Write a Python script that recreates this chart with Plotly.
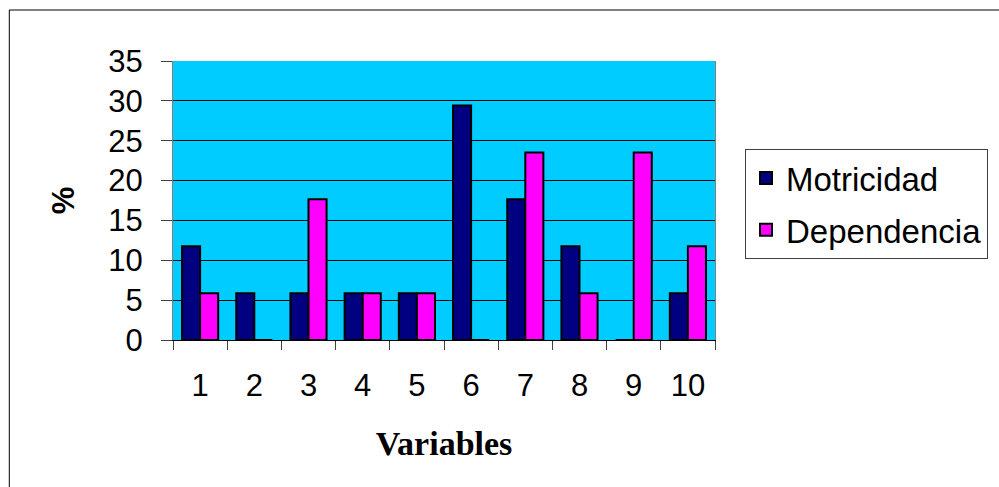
import plotly.graph_objects as go

categories = ["1", "2", "3", "4", "5", "6", "7", "8", "9", "10"]
motricidad = [11.76, 5.88, 5.88, 5.88, 5.88, 29.41, 17.65, 11.76, 0, 5.88]
dependencia = [5.88, 0, 17.65, 5.88, 5.88, 0, 23.53, 5.88, 23.53, 11.76]
y_ticks = [0, 5, 10, 15, 20, 25, 30, 35]

W, H = 999, 487
L, R, T, B = 173, 716, 61, 340

fig = go.Figure()
fig.add_trace(go.Bar(name="Motricidad", x=categories, y=motricidad, legendgroup="m",
                     marker=dict(color="#000080", line=dict(color="black", width=2))))
fig.add_trace(go.Bar(name="Dependencia", x=categories, y=dependencia, legendgroup="d",
                     marker=dict(color="#FF00FF", line=dict(color="black", width=2))))

pw, ph = R - L, B - T
def px(x):
    return (x - L) / pw
def py(y):
    return (B - y) / ph

fig.add_shape(type="rect", xref="paper", yref="paper",
              x0=px(9), x1=px(1010), y0=py(10), y1=py(500),
              line=dict(color="black", width=1), layer="below")

fig.update_layout(
    width=W, height=H,
    margin=dict(l=L, r=W - R, t=T, b=H - B),
    paper_bgcolor="white", plot_bgcolor="#00CCFF",
    barmode="group", bargap=1/3, bargroupgap=0,
    font=dict(family="Liberation Sans, Arial", size=31, color="black"),
    showlegend=True,
    legend=dict(x=px(745), y=py(149), xanchor="left", yanchor="top",
                bordercolor="#404040", borderwidth=1, bgcolor="white",
                font=dict(size=33), itemwidth=30, traceorder="grouped",
                tracegroupgap=6),
    xaxis=dict(type="category", tickson="boundaries", ticks="outside", ticklen=9,
               tickcolor="#404040", showline=True, linecolor="black", mirror=False,
               showgrid=False, ticklabelstandoff=18,
               title=dict(text="<b>Variables</b>", standoff=28,
                          font=dict(family="Liberation Serif, Times New Roman", size=34))),
    yaxis=dict(range=[0, 35], tickvals=y_ticks, ticks="outside", ticklen=11,
               tickcolor="#404040", showline=True, linecolor="#808080", mirror=True,
               showgrid=True, gridcolor="black", gridwidth=1, zeroline=False,
               ticklabelstandoff=12,
               title=dict(text="<b>%</b>", standoff=24, font=dict(size=31))),
)

fig.write_html("out.html")
